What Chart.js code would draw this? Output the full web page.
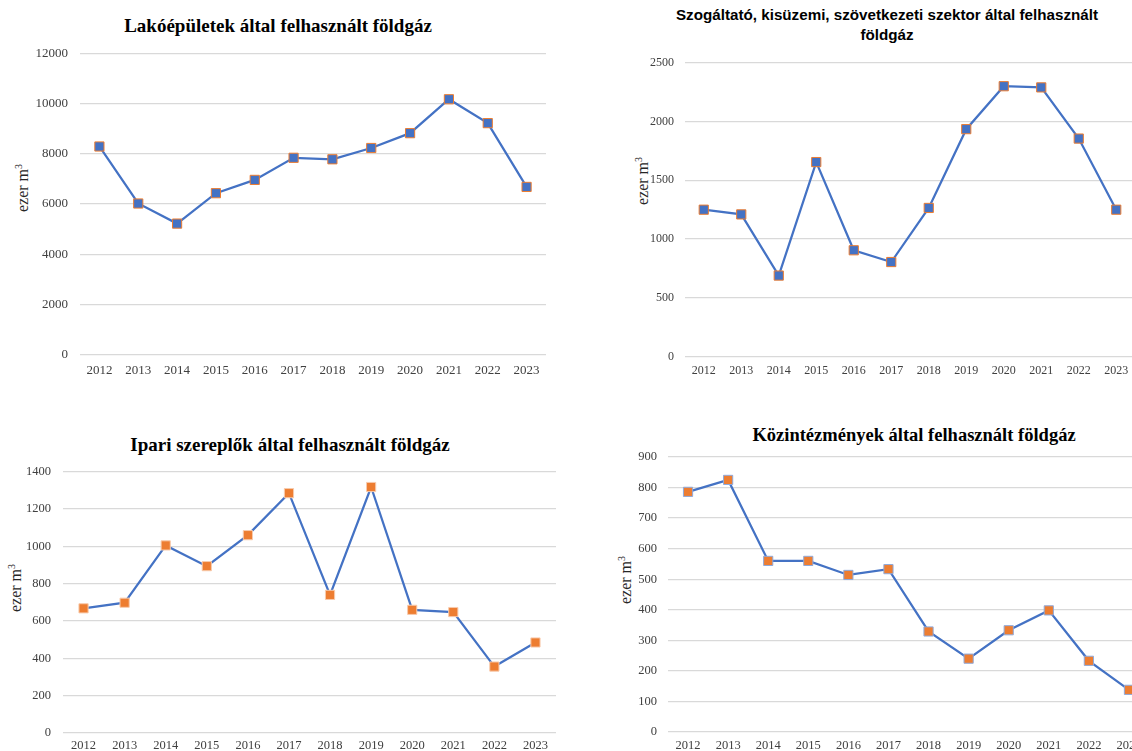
<!DOCTYPE html>
<html lang="hu">
<head>
<meta charset="utf-8">
<title>Földgáz felhasználás</title>
<script src="https://cdn.jsdelivr.net/npm/chart.js@4.4.1/dist/chart.umd.min.js"></script>
<style>
  html, body { margin: 0; padding: 0; background: #fff; }
  body { position: relative; width: 1132px; height: 751px; overflow: hidden; }
  canvas { position: absolute; }
  .title {
    position: absolute; transform: translateX(-50%); white-space: nowrap; text-align: center;
    font-family: "Liberation Serif", "Times New Roman", serif; font-weight: bold;
    font-size: 19px; line-height: 24px; color: #000;
  }
  .title.sans {
    font-family: "Liberation Sans Narrow", "Liberation Sans", Arial, sans-serif;
    font-size: 15.2px; line-height: 20px;
  }
  .ytitle {
    position: absolute; transform: translate(-50%, -50%) rotate(-90deg); white-space: nowrap;
    font-family: "Liberation Serif", "Times New Roman", serif; font-size: 16px; color: #262626;
  }
  .ytitle sup { font-size: 10px; line-height: 0; }
</style>
</head>
<body>

<div class="title" style="left:278px; top:14px;">Lakóépületek által felhasznált földgáz</div>
<div class="title sans" style="left:887px; top:5px;">Szogáltató, kisüzemi, szövetkezeti szektor által felhasznált<br>földgáz</div>
<div class="title" style="left:290px; top:433px;">Ipari szereplők által felhasznált földgáz</div>
<div class="title" style="left:914px; top:423px; font-size:18.5px;">Közintézmények által felhasznált földgáz</div>

<div class="ytitle" style="left:23px; top:188px;">ezer m<sup>3</sup></div>
<div class="ytitle" style="left:643px; top:181px;">ezer m<sup>3</sup></div>
<div class="ytitle" style="left:16px; top:588px;">ezer m<sup>3</sup></div>
<div class="ytitle" style="left:626px; top:580px;">ezer m<sup>3</sup></div>

<script>
// évek
const years = ["2012", "2013", "2014", "2015", "2016", "2017", "2018", "2019", "2020", "2021", "2022", "2023"];

// ezer m3 - értékek
const lakoValues = [8290, 6020, 5220, 6430, 6960, 7840, 7780, 8230, 8820, 10170, 9220, 6680];
const szolgValues = [1250, 1210, 690, 1655, 905, 805, 1265, 1935, 2300, 2290, 1855, 1250];
const ipariValues = [668, 698, 1005, 894, 1060, 1285, 740, 1318, 660, 648, 356, 485];
const kozintValues = [786, 825, 560, 560, 514, 533, 329, 240, 333, 398, 233, 138];

// y tengely beosztás
const lakoTicks = { max: 12000, step: 2000 };
const szolgTicks = { max: 2500, step: 500 };
const ipariTicks = { max: 1400, step: 200 };
const kozintTicks = { max: 900, step: 100 };

const LINE_BLUE = "#4472C4";
const ORANGE = "#ED7D31";

function makeChart(cfg) {
  const canvas = document.createElement("canvas");
  canvas.width = cfg.box.w;
  canvas.height = cfg.box.h;
  canvas.style.left = cfg.box.x + "px";
  canvas.style.top = cfg.box.y + "px";
  document.body.appendChild(canvas);

  const xAxisH = 20;
  const yAxisW = cfg.plot.l - cfg.box.x;
  const tickFont = { family: "'Liberation Serif', 'Times New Roman', serif", size: cfg.fontSize };

  return new Chart(canvas, {
    type: "line",
    data: {
      labels: years,
      datasets: [{
        data: cfg.values,
        borderColor: LINE_BLUE,
        borderWidth: 2.25,
        tension: 0,
        fill: false,
        pointStyle: "rect",
        pointRadius: 6.5,
        pointBackgroundColor: cfg.pointFill,
        pointBorderColor: cfg.pointBorder,
        pointBorderWidth: 1,
      }],
    },
    options: {
      responsive: false,
      animation: false,
      layout: {
        padding: {
          left: 0,
          top: cfg.plot.t - cfg.box.y,
          right: cfg.box.x + cfg.box.w - cfg.plot.r,
          bottom: cfg.box.y + cfg.box.h - cfg.plot.b - xAxisH,
        },
      },
      plugins: {
        legend: { display: false },
        tooltip: { enabled: false },
      },
      scales: {
        x: {
          offset: true,
          grid: { display: false, drawTicks: false },
          border: { display: false },
          ticks: { font: tickFont, color: "#404040", padding: cfg.xPad, maxRotation: 0, autoSkip: false },
          afterFit: (s) => { s.height = xAxisH; },
        },
        y: {
          min: 0,
          max: cfg.ticks.max,
          grid: { color: "#d9d9d9", lineWidth: 1.3, drawTicks: false },
          border: { display: false },
          ticks: {
            stepSize: cfg.ticks.step, font: tickFont, color: "#404040", padding: cfg.yPad,
            callback: (v) => String(v), // nincs ezres elválasztó
          },
          afterFit: (s) => { s.width = yAxisW; },
        },
      },
    },
  });
}

makeChart({
  box: { x: 0, y: 0, w: 570, h: 395 },
  plot: { l: 80, t: 53.3, r: 546, b: 354.7 },
  values: lakoValues, ticks: lakoTicks, fontSize: 13, xPad: 8, yPad: 12,
  pointFill: LINE_BLUE, pointBorder: ORANGE,
});

makeChart({
  box: { x: 580, y: 0, w: 600, h: 395 },
  plot: { l: 685, t: 62.7, r: 1135, b: 356.7 },
  values: szolgValues, ticks: szolgTicks, fontSize: 12, xPad: 7, yPad: 11,
  pointFill: LINE_BLUE, pointBorder: ORANGE,
});

makeChart({
  box: { x: 0, y: 400, w: 580, h: 380 },
  plot: { l: 63, t: 471.7, r: 556, b: 733 },
  values: ipariValues, ticks: ipariTicks, fontSize: 12.5, xPad: 5, yPad: 12,
  pointFill: ORANGE, pointBorder: "#f8cbad",
});

makeChart({
  box: { x: 580, y: 400, w: 600, h: 380 },
  plot: { l: 668, t: 457, r: 1149, b: 732 },
  values: kozintValues, ticks: kozintTicks, fontSize: 12.5, xPad: 6, yPad: 11,
  pointFill: ORANGE, pointBorder: "#8faadc",
});
</script>
</body>
</html>
